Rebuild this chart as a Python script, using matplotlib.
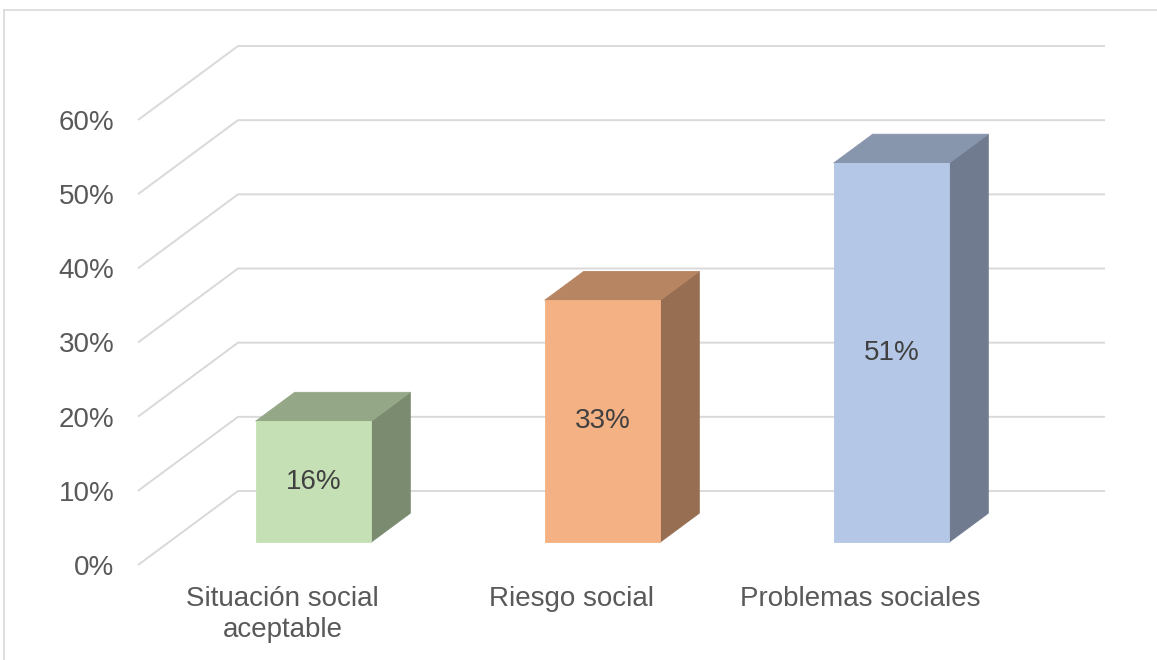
import matplotlib
matplotlib.use("Agg")
import matplotlib.pyplot as plt
from matplotlib.patches import Polygon
from matplotlib.lines import Line2D
import numpy as np

plt.rcParams['font.family'] = ['Liberation Sans', 'DejaVu Sans']

# data
categories = ["Situación social\naceptable", "Riesgo social", "Problemas sociales"]
values = [16.3, 32.6, 51.1]
bar_colors = ["#C5E0B4", "#F4B183", "#B4C7E7"]
y_ticks = [0, 10, 20, 30, 40, 50, 60]
y_labels = ["0%", "10%", "20%", "30%", "40%", "50%", "60%"]

W, H = 1157, 660
fig = plt.figure(figsize=(W / 100, H / 100), dpi=100)

# front plane of the fake 3d box, in pixels
x0, x1 = 138, 1005
y0, y1 = 565, 120
ax = fig.add_axes([x0 / W, (H - y0) / H, (x1 - x0) / W, (y0 - y1) / H])
ax.set_xlim(0, 3)
ax.set_ylim(0, 60)
ax.set_facecolor("none")
for s in ax.spines.values():
    s.set_visible(False)

# depth vector (full depth) converted from pixels to data units
ddx = 100 / ((x1 - x0) / 3)
ddy = 74 / ((y0 - y1) / 60)


def P(x, y, z):
    return (x + z * ddx, y + z * ddy)


grid_c = "#D9D9D9"
for v in y_ticks:
    ax.plot([0, ddx, 3 + ddx], [v, v + ddy, v + ddy], color=grid_c, lw=1.4,
            clip_on=False, zorder=0, solid_capstyle="butt")

bw = 0.40
z0, z1 = 0.31, 0.70


def shade(c, f):
    rgb = np.array(matplotlib.colors.to_rgb(c))
    return tuple(rgb * f)


for i, (v, c) in enumerate(zip(values, bar_colors)):
    xl, xr = i + 0.5 - bw / 2, i + 0.5 + bw / 2
    front = [P(xl, 0, z0), P(xr, 0, z0), P(xr, v, z0), P(xl, v, z0)]
    top = [P(xl, v, z0), P(xr, v, z0), P(xr, v, z1), P(xl, v, z1)]
    side = [P(xr, 0, z0), P(xr, 0, z1), P(xr, v, z1), P(xr, v, z0)]
    for pts, f in [(side, 0.62), (top, 0.75), (front, 1.0)]:
        col = shade(c, f)
        ax.add_patch(Polygon(pts, closed=True, facecolor=col, edgecolor=col,
                             lw=0.6, clip_on=False, zorder=2))
    cx, cy = P(i + 0.5, v / 2, z0)
    ax.text(cx, cy, f"{round(v)}%", ha="center", va="center",
            fontsize=20, color="#404040", zorder=3)

ax.set_yticks(y_ticks)
ax.set_yticklabels(y_labels)
ax.set_xticks([0.5, 1.5, 2.5])
ax.set_xticklabels(categories, linespacing=1.25)
ax.tick_params(axis="y", length=0, pad=17, labelsize=20, labelcolor="#595959")
ax.tick_params(axis="x", length=0, pad=15, labelsize=20, labelcolor="#595959")

# chart area border (partly cropped in the original)
fig.add_artist(Line2D([4 / W, 4 / W], [0, (H - 10) / H], color="#D9D9D9", lw=1.2))
fig.add_artist(Line2D([4 / W, 1], [(H - 10) / H, (H - 10) / H], color="#D9D9D9", lw=1.2))

fig.savefig("out.png", dpi=100, facecolor="white")
